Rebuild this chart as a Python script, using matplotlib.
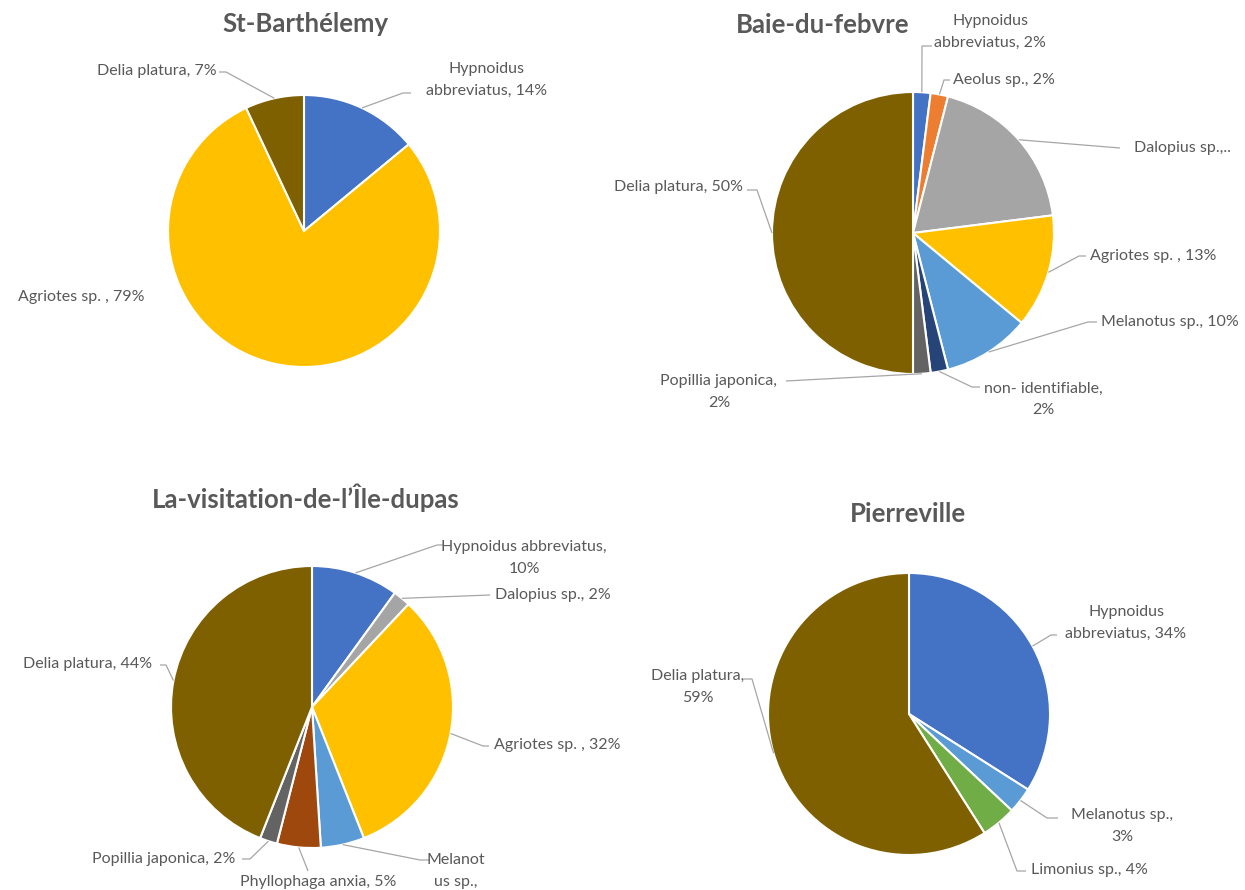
import numpy as np
import matplotlib
matplotlib.use('Agg')
import matplotlib.pyplot as plt

W, H = 1245, 890

# colours (Office palette)
BLUE = '#4472C4'
ORANGE = '#ED7D31'
GRAY = '#A5A5A5'
GOLD = '#FFC000'
LBLUE = '#5B9BD5'
GREEN = '#70AD47'
DBLUE = '#264478'
BROWN = '#9E480E'
DGRAY = '#636363'
DGOLD = '#7F6000'

# --- data ---
stb_values = [14, 79, 7]
stb_labels = ['Hypnoidus\nabbreviatus, 14%', 'Agriotes sp. , 79%', 'Delia platura, 7%']
stb_colors = [BLUE, GOLD, DGOLD]

baie_values = [2, 2, 19, 13, 10, 2, 2, 50]
baie_labels = ['Hypnoidus\nabbreviatus, 2%', 'Aeolus sp., 2%', 'Dalopius sp.,..',
               'Agriotes sp. , 13%', 'Melanotus sp., 10%', 'non- identifiable,\n2%',
               'Popillia japonica,\n2%', 'Delia platura, 50%']
baie_colors = [BLUE, ORANGE, GRAY, GOLD, LBLUE, DBLUE, DGRAY, DGOLD]

visit_values = [10, 2, 32, 5, 5, 2, 44]
visit_labels = ['Hypnoidus abbreviatus,\n10%', 'Dalopius sp., 2%', 'Agriotes sp. , 32%',
                'Melanot\nus sp.,', 'Phyllophaga anxia, 5%', 'Popillia japonica, 2%',
                'Delia platura, 44%']
visit_colors = [BLUE, GRAY, GOLD, LBLUE, BROWN, DGRAY, DGOLD]

pier_values = [34, 3, 4, 59]
pier_labels = ['Hypnoidus\nabbreviatus, 34%', 'Melanotus sp.,\n3%', 'Limonius sp., 4%',
               'Delia platura,\n59%']
pier_colors = [BLUE, LBLUE, GREEN, DGOLD]

TXT = '#595959'
LINE = '#A6A6A6'
FONT = 'Lato'


def P(x, y):
    # pixel (top-left origin) -> data coords
    return x, H - y


def draw_pie(ax, title, title_xy, values, colors, labels, center, radius, label_xy, leaders):
    cx, cy = P(*center)
    wedges, _ = ax.pie(values, colors=colors, startangle=90, counterclock=False,
                       center=(cx, cy), radius=radius,
                       wedgeprops=dict(edgecolor='white', linewidth=1.5))
    tx, ty = P(*title_xy)
    ax.text(tx, ty, title, ha='center', va='center', fontsize=18.5,
            fontweight='bold', color=TXT, family=FONT)
    for w, lab, (lx, ly), pts in zip(wedges, labels, label_xy, leaders):
        x, y = P(lx, ly)
        ax.text(x, y, lab, ha='center', va='center', multialignment='center',
                fontsize=11.5, color=TXT, family=FONT, linespacing=1.65)
        if pts is None:
            continue
        mid = np.deg2rad((w.theta1 + w.theta2) / 2)
        xs = [cx + radius * np.cos(mid)] + [p[0] for p in pts]
        ys = [cy + radius * np.sin(mid)] + [H - p[1] for p in pts]
        ax.plot(xs, ys, color=LINE, linewidth=0.9, solid_capstyle='butt')


fig = plt.figure(figsize=(W / 100, H / 100), dpi=100)
ax = fig.add_axes([0, 0, 1, 1])

draw_pie(ax, 'St-Barthélemy', (305, 24), stb_values, stb_colors, stb_labels,
         (304, 231), 136,
         [(487, 80), (81, 297), (157, 71)],
         [[(403, 93), (411, 93)], None, [(226, 72), (219, 72)]])

draw_pie(ax, 'Baie-du-febvre', (823, 25), baie_values, baie_colors, baie_labels,
         (913, 233), 141,
         [(990, 32), (1004, 80), (1182, 148), (1153, 256), (1170, 322), (1043, 399),
          (719, 392), (678, 187)],
         [[(922, 46), (932, 46)], [(944, 80), (950, 80)], [(1120, 148)],
          [(1079, 256), (1086, 256)], [(1088, 322), (1097, 322)], [(972, 387), (980, 387)],
          [(786, 381)], [(757, 190), (747, 190)]])

draw_pie(ax, 'La-visitation-de-l’Île-dupas', (306, 498), visit_values, visit_colors, visit_labels,
         (312, 707), 141,
         [(524, 558), (553, 595), (557, 745), (456, 871), (318, 882), (164, 859), (88, 664)],
         [[(437, 545), (443, 545)], [(490, 595)], [(483, 746), (489, 746)],
          [(420, 860), (429, 860)], [(308, 871)], [(250, 859), (242, 859)],
          [(166, 665), (160, 665)]])

draw_pie(ax, 'Pierreville', (908, 514), pier_values, pier_colors, pier_labels,
         (909, 714), 141,
         [(1126, 623), (1122, 826), (1089, 870), (698, 687)],
         [[(1051, 635), (1057, 635)], [(1047, 818), (1058, 818)],
          [(1017, 871), (1026, 871)], [(752, 679), (744, 679)]])

ax.set_xlim(0, W)
ax.set_ylim(0, H)
ax.set_aspect('equal')
ax.axis('off')

fig.savefig('out.png', dpi=100, facecolor='white')
